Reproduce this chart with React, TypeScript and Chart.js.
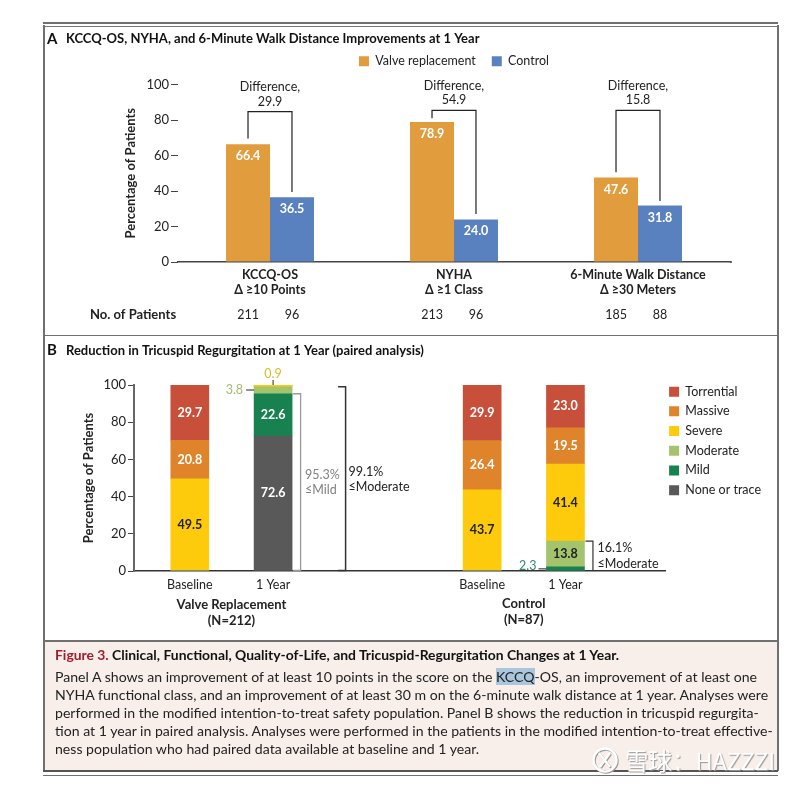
import React, { useEffect, useRef } from "react";
import { Chart, registerables } from "chart.js";

Chart.register(...registerables);

const FONT = "Lato, 'Open Sans', sans-serif";
const INK = "#222222";

// Panel A
const outcomeLabels = [["KCCQ-OS", "Δ ≥10 Points"], ["NYHA", "Δ ≥1 Class"], ["6-Minute Walk Distance", "Δ ≥30 Meters"]];
const valveValues = [66.4, 78.9, 47.6];
const controlValues = [36.5, 24.0, 31.8];
const differences = ["29.9", "54.9", "15.8"];
const bracketTops = [84.7, 85.4, 85.4];
const bracketValveEnds = [69.6, 81, 50.6];
const bracketControlEnds = [39.4, 27, 34.4];
const patientsValve = ["211", "213", "185"];
const patientsControl = ["96", "96", "88"];

// Panel B
const barPositions = [0, 1, 3.51, 4.51];
const barLabels = ["Baseline", "1 Year", "Baseline", "1 Year"];
const noneOrTrace = [0, 72.6, 0, 0];
const mild = [0, 22.6, 0, 2.3];
const moderate = [0, 3.8, 0, 13.8];
const severe = [49.5, 0.9, 43.7, 41.4];
const massive = [20.8, 0, 26.4, 19.5];
const torrential = [29.7, 0, 29.9, 23.0];

const captionTitle = "Clinical, Functional, Quality-of-Life, and Tricuspid-Regurgitation Changes at 1 Year.";
const captionLines = [
  ["Panel A shows an improvement of at least 10 points in the score on the ", "KCCQ", "-OS, an improvement of at least one"],
  ["NYHA functional class, and an improvement of at least 30 m on the 6-minute walk distance at 1 year. Analyses were"],
  ["performed in the modified intention-to-treat safety population. Panel B shows the reduction in tricuspid regurgita-"],
  ["tion at 1 year in paired analysis. Analyses were performed in the patients in the modified intention-to-treat effective-"],
  ["ness population who had paired data available at baseline and 1 year."],
];

const AX = 44, AY = 25, AW = 734, AH = 310;
const BX = 44, BY = 337, BW = 734, BH = 303;
const REG = `12.5px ${FONT}`;
const BOLD = `bold 12.5px ${FONT}`;

function text(ctx: any, s: string, x: number, y: number, font: string, color: string, align: any = "center") {
  ctx.font = font;
  ctx.fillStyle = color;
  ctx.textAlign = align;
  ctx.textBaseline = "middle";
  ctx.fillText(s, x, y);
}

function path(ctx: any, pts: number[][], color: string, width: number) {
  ctx.beginPath();
  ctx.strokeStyle = color;
  ctx.lineWidth = width;
  pts.forEach((p, i) => (i ? ctx.lineTo(p[0], p[1]) : ctx.moveTo(p[0], p[1])));
  ctx.stroke();
}

const panelAPlugin = {
  id: "panelA",
  afterLayout(chart: any) {
    chart.legend.top -= 7;
  },
  afterDatasetsDraw(chart: any) {
    const { ctx, scales } = chart;
    const y = scales.y;
    const a = chart.getDatasetMeta(0).data;
    const b = chart.getDatasetMeta(1).data;
    ctx.save();
    text(ctx, "A", 47 - AX, 39 - AY, `bold 15px ${FONT}`, "#111", "left");
    text(ctx, "KCCQ-OS, NYHA, and 6-Minute Walk Distance Improvements at 1 Year", 66 - AX, 39 - AY, `bold 13px ${FONT}`, "#111", "left");
    text(ctx, "No. of Patients", 90 - AX, 315 - AY, `bold 13px ${FONT}`, INK, "left");
    outcomeLabels.forEach((_, i) => {
      const xa = a[i].x, xb = b[i].x;
      text(ctx, valveValues[i].toFixed(1), xa, a[i].y + 12, BOLD, "#fff");
      text(ctx, controlValues[i].toFixed(1), xb, b[i].y + 12, BOLD, "#fff");
      const top = y.getPixelForValue(bracketTops[i]);
      path(ctx, [[xa, y.getPixelForValue(bracketValveEnds[i])], [xa, top], [xb, top], [xb, y.getPixelForValue(bracketControlEnds[i])]], "#222", 1.2);
      const cx = (xa + xb) / 2;
      text(ctx, "Difference,", cx, top - 24.5, REG, INK);
      text(ctx, differences[i], cx, top - 10, REG, INK);
      text(ctx, patientsValve[i], xa, 315 - AY, REG, INK);
      text(ctx, patientsControl[i], xb, 315 - AY, REG, INK);
    });
    const base = y.getPixelForValue(0);
    path(ctx, [[chart.chartArea.right, base], [chart.chartArea.right + 2, base]], "#444", 1.5);
    ctx.restore();
  },
};

const panelBPlugin = {
  id: "panelB",
  afterLayout(chart: any) {
    const l = chart.legend;
    l.left -= 3.5;
    l.top -= 6.8;
  },
  afterDatasetsDraw(chart: any) {
    const { ctx, scales } = chart;
    const y = scales.y;
    ctx.save();
    text(ctx, "B", 47 - BX, 350 - BY, `bold 15px ${FONT}`, "#111", "left");
    text(ctx, "Reduction in Tricuspid Regurgitation at 1 Year (paired analysis)", 66 - BX, 351 - BY, `bold 13px ${FONT}`, "#111", "left");
    chart.data.datasets.forEach((ds: any, d: number) => {
      const els = chart.getDatasetMeta(d).data;
      ds.data.forEach((pt: any, i: number) => {
        if (pt.y < 5) return;
        const lift = pt.y === 72.6 ? 10.5 : 0;
        text(ctx, pt.y.toFixed(1), els[i].x, (els[i].y + els[i].base) / 2 - lift, BOLD, ds.labelColor);
      });
    });
    const x1 = chart.getDatasetMeta(0).data[1];
    const x3 = chart.getDatasetMeta(0).data[3];
    const p100 = y.getPixelForValue(100);
    const p0 = y.getPixelForValue(0);
    // small-segment callouts
    text(ctx, "0.9", x1.x, p100 - 11, REG, "#d9bc2a");
    path(ctx, [[x1.x, p100 - 5], [x1.x, p100]], "#222", 1);
    const p38 = y.getPixelForValue(97.3);
    text(ctx, "3.8", x1.x - 30, p38, REG, "#a6b96f", "right");
    path(ctx, [[x1.x - 27, p38], [x1.x - 19, p38]], "#222", 1);
    const p23 = y.getPixelForValue(1.15);
    text(ctx, "2.3", x3.x - 29, p23 - 3, REG, "#2f8a70", "right");
    path(ctx, [[x3.x - 27, p23], [x3.x - 19, p23]], "#222", 1);
    // brackets
    const bracket = (x: number, v: number, w: number, c: string, lw: number) => {
      const t = y.getPixelForValue(v);
      path(ctx, [[x, t], [x + w, t], [x + w, p0 - 0.5], [x, p0 - 0.5]], c, lw);
    };
    bracket(x1.x + 20, 95.3, 7.5, "#9a9a9a", 1.3);
    bracket(x1.x + 65, 99.1, 7.5, "#333", 1.5);
    bracket(x3.x + 20, 16.1, 7.5, "#333", 1.2);
    text(ctx, "95.3%", 305 - BX, 475 - BY, REG, "#808080", "left");
    text(ctx, "≤Mild", 305 - BX, 490 - BY, REG, "#808080", "left");
    text(ctx, "99.1%", 348.5 - BX, 472 - BY, REG, INK, "left");
    text(ctx, "≤Moderate", 348.5 - BX, 487 - BY, REG, INK, "left");
    text(ctx, "16.1%", 597.5 - BX, 548 - BY, REG, INK, "left");
    text(ctx, "≤Moderate", 597.5 - BX, 564 - BY, REG, INK, "left");
    // group captions
    const GROUP = `bold 13px ${FONT}`;
    const mid1 = (chart.getDatasetMeta(0).data[0].x + x1.x) / 2;
    const mid2 = (chart.getDatasetMeta(0).data[2].x + x3.x) / 2;
    text(ctx, "Valve Replacement", mid1, 605 - BY, GROUP, INK);
    text(ctx, "(N=212)", mid1, 621 - BY, GROUP, INK);
    text(ctx, "Control", mid2, 604 - BY, GROUP, INK);
    text(ctx, "(N=87)", mid2, 620 - BY, GROUP, INK);
    ctx.restore();
  },
};

const line = (left: number, top: number, width: number, height: number, background = "#707070"): React.CSSProperties => ({
  position: "absolute", left, top, width, height, background,
});

export default function App() {
  const aRef = useRef<HTMLCanvasElement>(null);
  const bRef = useRef<HTMLCanvasElement>(null);

  useEffect(() => {
    const a = new Chart(aRef.current!, {
      type: "bar",
      data: {
        labels: outcomeLabels as any,
        datasets: [
          { label: "Valve replacement", data: valveValues, backgroundColor: "#e09c3d" },
          { label: "Control", data: controlValues, backgroundColor: "#5a81bf" },
        ],
      },
      options: {
        animation: false,
        responsive: false,
        devicePixelRatio: 1,
        layout: { padding: { left: 79, right: 48, top: 21, bottom: 0 } },
        datasets: { bar: { categoryPercentage: 0.478, barPercentage: 1 } },
        plugins: {
          title: { display: false },
          tooltip: { enabled: false },
          legend: {
            position: "top",
            fullSize: false,
            labels: { boxWidth: 10, boxHeight: 10, padding: 16, color: INK, font: { family: FONT, size: 12.5 } },
          },
        },
        scales: {
          x: {
            afterFit: (s: any) => { s.height = 73; },
            grid: { display: false, drawTicks: false },
            border: { color: "#444", width: 1.5 },
            ticks: { padding: 5, maxRotation: 0, color: INK, font: { family: FONT, size: 12.5, weight: "bold", lineHeight: 1.2 } },
          },
          y: {
            min: 0, max: 100,
            afterFit: (s: any) => { s.width = 55; },
            title: { display: true, text: "Percentage of Patients", color: INK, padding: 0, font: { family: FONT, size: 13, weight: "bold" } },
            border: { display: false },
            grid: { drawOnChartArea: false, drawTicks: true, tickLength: 7, color: "#444" },
            ticks: { stepSize: 20, padding: 2, color: INK, font: { family: FONT, size: 13 } },
          },
        },
      } as any,
      plugins: [panelAPlugin],
    });

    const series = [
      { label: "None or trace", values: noneOrTrace, color: "#595959", labelColor: "#fff" },
      { label: "Mild", values: mild, color: "#17824f", labelColor: "#fff" },
      { label: "Moderate", values: moderate, color: "#a3c46d", labelColor: "#222" },
      { label: "Severe", values: severe, color: "#fdcb0b", labelColor: "#222" },
      { label: "Massive", values: massive, color: "#e0842c", labelColor: "#fff" },
      { label: "Torrential", values: torrential, color: "#c8503a", labelColor: "#fff" },
    ];
    const b = new Chart(bRef.current!, {
      type: "bar",
      data: {
        datasets: series.map((s) => ({
          label: s.label,
          labelColor: s.labelColor,
          backgroundColor: s.color,
          barThickness: 38,
          data: barPositions.map((x, i) => ({ x, y: s.values[i] })),
        })) as any,
      },
      options: {
        animation: false,
        responsive: false,
        devicePixelRatio: 1,
        layout: { padding: { left: 37, right: 3.5, top: 48, bottom: 0 } },
        plugins: {
          tooltip: { enabled: false },
          legend: {
            position: "right",
            align: "start",
            fullSize: false,
            reverse: true,
            labels: { boxWidth: 10, boxHeight: 10, padding: 7.2, color: INK, font: { family: FONT, size: 12.5 } },
          },
        },
        scales: {
          x: {
            type: "linear",
            stacked: true,
            offset: false,
            min: -0.67,
            max: 5.71,
            afterFit: (s: any) => { s.height = 69; },
            afterBuildTicks: (s: any) => { s.ticks = barPositions.map((value) => ({ value })); },
            grid: { display: false, drawTicks: false, offset: false },
            border: { color: "#333", width: 1.5 },
            ticks: {
              autoSkip: false,
              maxRotation: 0,
              padding: 6,
              color: INK,
              font: { family: FONT, size: 12.5 },
              callback: (v: any) => barLabels[barPositions.indexOf(v)] ?? "",
            },
          },
          y: {
            stacked: true,
            min: 0, max: 100,
            afterFit: (s: any) => { s.width = 53; },
            title: { display: true, text: "Percentage of Patients", color: INK, padding: 0, font: { family: FONT, size: 13, weight: "bold" } },
            border: { color: "#666", width: 2 },
            grid: { drawOnChartArea: false, drawTicks: true, tickLength: 6, color: "#444" },
            ticks: { stepSize: 20, padding: 2, color: INK, font: { family: FONT, size: 13 } },
          },
        },
      } as any,
      plugins: [panelBPlugin],
    });
    return () => { a.destroy(); b.destroy(); };
  }, []);

  return (
    <div style={{ position: "absolute", left: 0, top: 0, width: 800, height: 785, background: "#fff", overflow: "hidden", fontFamily: FONT }}>
      <div style={line(44, 641, 734, 129, "#f8efeb")} />
      <canvas ref={aRef} width={AW} height={AH} style={{ position: "absolute", left: AX, top: AY, width: AW, height: AH }} />
      <canvas ref={bRef} width={BW} height={BH} style={{ position: "absolute", left: BX, top: BY, width: BW, height: BH }} />
      <div style={line(43, 22, 735, 2)} />
      <div style={line(43, 25.5, 735, 1, "#777")} />
      <div style={line(43, 25, 2, 746)} />
      <div style={line(777, 25, 2, 746)} />
      <div style={line(43, 334.5, 735, 1.5)} />
      <div style={line(43, 640, 735, 1.5)} />
      <div style={line(43, 770, 735, 1.5, "#555")} />
      <div style={line(43, 774.5, 735, 1.5)} />
      <div style={{ position: "absolute", left: 55, top: 646, whiteSpace: "nowrap", fontSize: 13.9, fontWeight: 700, lineHeight: "18px", color: "#111" }}>
        <span style={{ color: "#a51c30" }}>Figure 3. </span>{captionTitle}
      </div>
      {captionLines.map((parts, i) => (
        <div key={i} style={{ position: "absolute", left: 55, top: 668 + i * 18.1, whiteSpace: "nowrap", fontSize: 14.1, lineHeight: "18px", color: "#222" }}>
          {parts.map((p, j) => (
            <span key={j} style={p === "KCCQ" ? { background: "#a9c6de" } : undefined}>{p}</span>
          ))}
        </div>
      ))}
      <div style={{ position: "absolute", left: 625, top: 745, whiteSpace: "nowrap", fontFamily: "'Noto Sans CJK SC', sans-serif", fontSize: 23.5, lineHeight: "30px", color: "#fff", textShadow: "1px 1px 1px #999" }}>
        雪球：HAZZZI
      </div>
      <svg width="28" height="28" viewBox="0 0 28 28" style={{ position: "absolute", left: 591, top: 746, filter: "drop-shadow(1px 1px 0.6px #999)" }}>
        <circle cx="14" cy="14" r="11.5" fill="none" stroke="#fff" strokeWidth="2.4" />
        <path d="M8 7 L19 21 M19 7 L9 21" stroke="#fff" strokeWidth="2.2" fill="none" />
      </svg>
    </div>
  );
}
